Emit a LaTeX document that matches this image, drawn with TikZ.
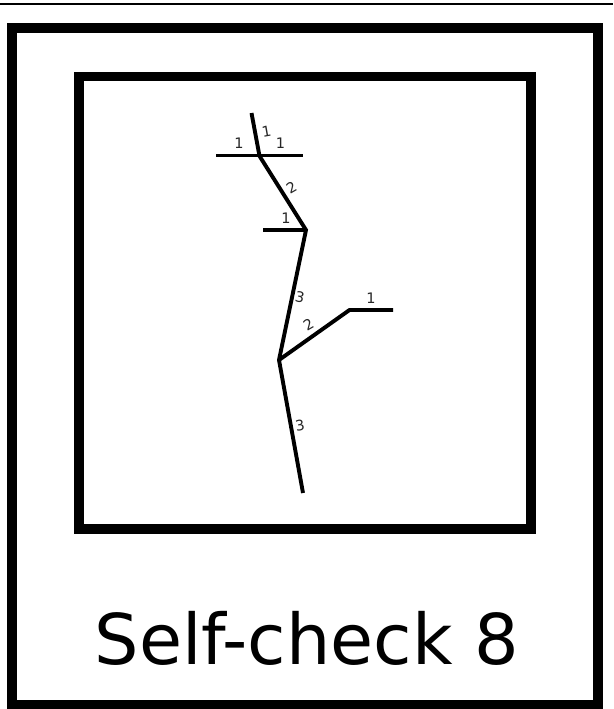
\documentclass[tikz,border=0pt]{standalone}
\usepackage{fontspec}
\setmainfont{DejaVu Sans}
\begin{document}
\begin{tikzpicture}[x=1pt,y=-1pt,
  frame/.style={draw=black,line width=10pt},
  branch/.style={draw=black,line width=3.9pt,line cap=butt,line join=miter},
  lbl/.style={font=\fontsize{14.5}{14.5}\selectfont,inner sep=0pt,text=black!85}]
\useasboundingbox (0,0) rectangle (613,709);
\draw[line width=1.8pt] (0,4) -- (613,4);
\draw[frame] (12,28) rectangle (598,705);
\draw[frame,line width=9.5pt] (79,76.5) rectangle (531,529);
% tree points
\coordinate (top) at (251.5,113);
\coordinate (j1) at (259.5,156);
\coordinate (h1l) at (216,155.5);
\coordinate (h1r) at (303,155.5);
\coordinate (j2) at (306,230);
\coordinate (h2l) at (263,230);
\coordinate (j3) at (279,360);
\coordinate (b1) at (349.5,310);
\coordinate (b2) at (393,310);
\coordinate (bot) at (303,493);
\draw[branch] (top) -- (j1) -- (j2) -- (j3) -- (bot);
\draw[branch] (h1l) -- (h1r);
\draw[branch] (h2l) -- (j2);
\draw[branch] (j3) -- (b1) -- (b2);
% labels
\node[lbl] (l1) at (239,143) {1};
\node[lbl,rotate=10] (l2) at (266.5,131.5) {1};
\node[lbl] (l3) at (280.5,143) {1};
\node[lbl,rotate=30] (l4) at (291.5,188) {2};
\node[lbl] (l5) at (286,218) {1};
\node[lbl,rotate=-11] (l6) at (300,297.5) {3};
\node[lbl,rotate=30] (l7) at (308.5,325) {2};
\node[lbl] (l8) at (371,298.5) {1};
\node[lbl,rotate=10] (l9) at (300,425) {3};
\node[anchor=base,font=\fontsize{70}{70}\selectfont,inner sep=0pt] (title) at (307,664) {Self-check 8};
\end{tikzpicture}
\end{document}
